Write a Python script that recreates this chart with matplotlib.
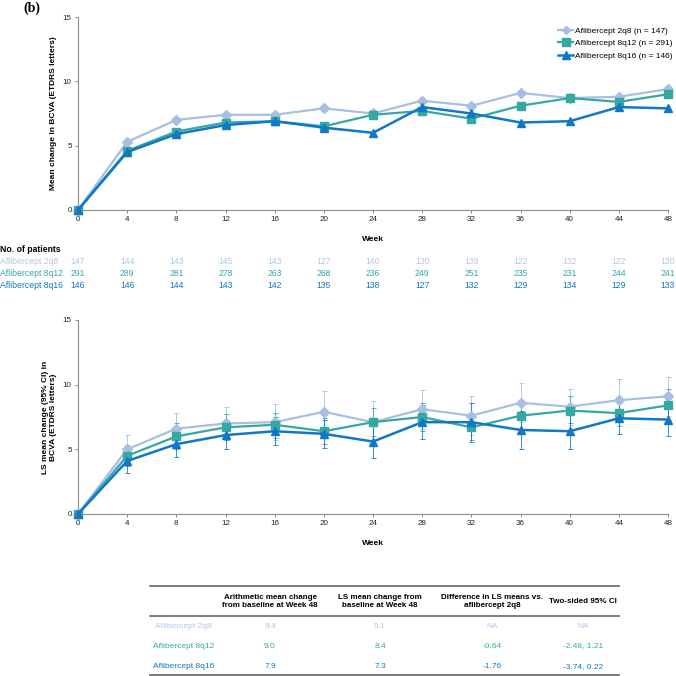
import matplotlib
matplotlib.use('Agg')
import matplotlib.pyplot as plt
from matplotlib.lines import Line2D
from matplotlib.transforms import blended_transform_factory

plt.rcParams['font.family'] = ['Liberation Sans', 'DejaVu Sans']

# data
weeks = [0, 4, 8, 12, 16, 20, 24, 28, 32, 36, 40, 44, 48]
groups = ['Aflibercept 2q8', 'Aflibercept 8q12', 'Aflibercept 8q16']
group_n = [147, 291, 146]

mean_2q8 = [0, 5.3, 7.0, 7.4, 7.4, 7.9, 7.5, 8.5, 8.1, 9.1, 8.7, 8.8, 9.4]
mean_8q12 = [0, 4.6, 6.1, 6.8, 6.9, 6.5, 7.4, 7.7, 7.1, 8.1, 8.7, 8.4, 9.0]
mean_8q16 = [0, 4.5, 5.9, 6.6, 6.9, 6.4, 6.0, 8.0, 7.5, 6.8, 6.9, 8.0, 7.9]

n_2q8 = [147, 144, 143, 145, 143, 127, 140, 130, 139, 122, 132, 122, 130]
n_8q12 = [291, 289, 281, 278, 263, 268, 236, 249, 251, 235, 231, 244, 241]
n_8q16 = [146, 146, 144, 143, 142, 135, 138, 127, 132, 129, 134, 129, 133]

ls_2q8 = [0, 5.0, 6.6, 7.0, 7.1, 7.9, 7.1, 8.1, 7.6, 8.6, 8.3, 8.8, 9.1]
lo_2q8 = [0, 3.9, 5.4, 5.7, 5.7, 6.3, 5.5, 6.6, 6.1, 7.1, 6.9, 7.2, 7.6]
hi_2q8 = [0, 6.1, 7.8, 8.3, 8.5, 9.5, 8.7, 9.6, 9.1, 10.1, 9.7, 10.4, 10.6]

ls_8q12 = [0, 4.5, 6.0, 6.7, 6.9, 6.4, 7.1, 7.5, 6.7, 7.6, 8.0, 7.8, 8.4]
lo_8q12 = [0, 3.7, 5.0, 5.7, 5.9, 5.4, 6.0, 6.4, 5.7, 6.6, 7.0, 6.8, 7.3]
hi_8q12 = [0, 5.3, 7.0, 7.7, 7.8, 7.4, 8.2, 8.6, 7.7, 8.6, 9.1, 8.8, 9.7]

ls_8q16 = [0, 4.1, 5.4, 6.1, 6.4, 6.2, 5.6, 7.1, 7.1, 6.5, 6.4, 7.4, 7.3]
lo_8q16 = [0, 3.2, 4.4, 5.0, 5.3, 5.1, 4.3, 5.8, 5.6, 5.0, 5.0, 6.2, 6.0]
hi_8q16 = [0, 5.0, 6.4, 7.2, 7.5, 7.3, 6.9, 8.4, 8.6, 8.0, 7.8, 8.6, 8.6]

table_cols = ['Arithmetic mean change\nfrom baseline at Week 48',
              'LS mean change from\nbaseline at Week 48',
              'Difference in LS means vs.\naflibercept 2q8',
              'Two-sided 95% CI']
table_rows = [['9.4', '9.1', 'NA', 'NA'],
              ['9.0', '8.4', '-0.64', '-2.48, 1.21'],
              ['7.9', '7.3', '-1.76', '-3.74, 0.22']]

colors = ['#A8BEE2', '#35A8A2', '#1078C6']
text_colors = ['#B3C6E6', '#35A8A2', '#1078C6']
markers = ['D', 's', '^']
msizes = [4.8, 5.8, 5.8]
lws = [1.6, 1.6, 1.8]

W = 676.0
fig = plt.figure(figsize=(6.76, 6.76), dpi=100)


def px_axes(l, t, r, b):
    return fig.add_axes([l / W, 1 - b / W, (r - l) / W, (b - t) / W])


def style_ax(ax):
    ax.set_xlim(0, 48)
    ax.set_ylim(0, 15)
    ax.set_xticks(weeks)
    ax.set_yticks([0, 5, 10, 15])
    for s in ['top', 'right']:
        ax.spines[s].set_visible(False)
    for s in ['left', 'bottom']:
        ax.spines[s].set_color('#8a8a8a')
        ax.spines[s].set_linewidth(0.8)
    ax.tick_params(labelsize=5.8, colors='#8a8a8a', labelcolor='#222222',
                   length=2.5, width=0.7, pad=2)
    ax.set_xlabel('Week', fontsize=6, fontweight='bold', labelpad=9)


# top panel
ax1 = px_axes(78, 17, 668, 210)
means = [mean_2q8, mean_8q12, mean_8q16]
for i in range(3):
    ax1.plot(weeks, means[i], color=colors[i], marker=markers[i], ms=msizes[i],
             lw=lws[i], clip_on=False, zorder=3 + i,
             label='%s (n = %d)' % (groups[i], group_n[i]))
style_ax(ax1)
ax1.set_ylabel('Mean change in BCVA (ETDRS letters)', fontsize=6, fontweight='bold')
ax1.yaxis.set_label_coords(-0.036, 0.5)
ax1.legend(loc='upper right', bbox_to_anchor=(1.0125, 0.965), frameon=False,
           fontsize=6, handlelength=1.8, handletextpad=0.15, labelspacing=0.55,
           borderaxespad=0, markerscale=0.9)

fig.text(23 / W, 1 - 8 / W, '(b)', fontsize=10, fontweight='bold',
         family='Liberation Serif', va='center', ha='left')

# number of patients
tr = blended_transform_factory(ax1.transData, fig.transFigure)
fig.text(0, 1 - 250 / W, 'No. of patients', fontsize=6.2, fontweight='bold', va='center')
ns = [n_2q8, n_8q12, n_8q16]
row_y = [262, 274, 285]
for i in range(3):
    fig.text(0, 1 - row_y[i] / W, groups[i], fontsize=6.2, color=text_colors[i], va='center')
    for w, n in zip(weeks, ns[i]):
        ax1.text(w, 1 - row_y[i] / W, str(n), transform=tr, fontsize=6.2,
                 color=text_colors[i], ha='center', va='center', clip_on=False)

# bottom panel
ax2 = px_axes(78, 320, 668, 514)
ls = [ls_2q8, ls_8q12, ls_8q16]
los = [lo_2q8, lo_8q12, lo_8q16]
his = [hi_2q8, hi_8q12, hi_8q16]
for i in range(3):
    yerr = [[m - l for m, l in zip(ls[i], los[i])], [h - m for m, h in zip(ls[i], his[i])]]
    ax2.errorbar(weeks, ls[i], yerr=yerr, fmt='none', ecolor=colors[i],
                 elinewidth=0.7, capsize=1.8, capthick=0.7, zorder=2, clip_on=False,
                 alpha=0.85)
    ax2.plot(weeks, ls[i], color=colors[i], marker=markers[i], ms=msizes[i],
             lw=lws[i], clip_on=False, zorder=3 + i)
style_ax(ax2)
ax2.set_ylabel('LS mean change (95% CI) in\nBCVA (ETDRS letters)', fontsize=6,
               fontweight='bold', linespacing=1.1)
ax2.yaxis.set_label_coords(-0.036, 0.5)

# summary table
x0, x1 = 150, 619
for y in [586, 615.5, 675]:
    fig.add_artist(Line2D([x0 / W, x1 / W], [1 - y / W, 1 - y / W],
                          color='#666666', lw=1.2))
col_x = [270, 380, 492, 583]
for cx, c in zip(col_x, table_cols):
    fig.text(cx / W, 1 - 601.5 / W, c, fontsize=5.8, fontweight='bold',
             ha='center', va='center', linespacing=1.25)
tab_y = [627, 646, 666.5]
for i in range(3):
    fig.text((153 + (2 if i == 0 else 0)) / W, 1 - tab_y[i] / W, groups[i],
             fontsize=6, color=text_colors[i], va='center')
    for cx, v in zip(col_x, table_rows[i]):
        fig.text(cx / W, 1 - tab_y[i] / W, v, fontsize=6, color=text_colors[i],
                 ha='center', va='center')

fig.savefig('out.png', dpi=100)
